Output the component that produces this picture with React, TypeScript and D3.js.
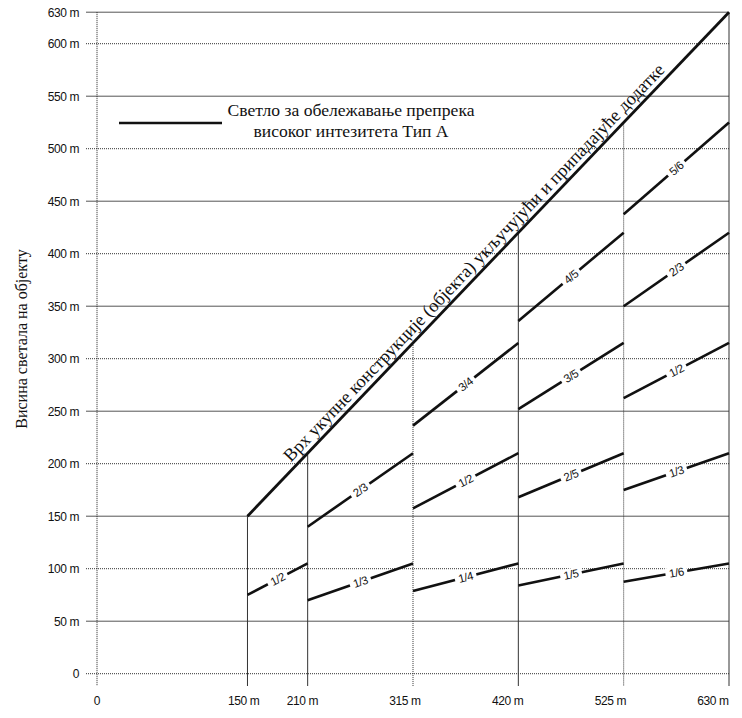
import React from "react";
import * as d3 from "d3";

const yTicks = [0, 50, 100, 150, 200, 250, 300, 350, 400, 450, 500, 550, 600, 630];
const yTickLabels = ["0", "50 m", "100 m", "150 m", "200 m", "250 m", "300 m", "350 m", "400 m", "450 m", "500 m", "550 m", "600 m", "630 m"];
const xTicks = [0, 150, 210, 315, 420, 525, 630];
const xTickLabels = ["0", "150 m", "210 m", "315 m", "420 m", "525 m", "630 m"];
const verticalTops = [150, 210, 315, 420, 525, 630];
const verticalX = [150, 210, 315, 420, 525, 630];

const topLineX = [150, 630];
const topLineY = [150, 630];

const segX0 = [150, 210, 210, 315, 315, 315, 420, 420, 420, 420, 525, 525, 525, 525, 525];
const segX1 = [210, 315, 315, 420, 420, 420, 525, 525, 525, 525, 630, 630, 630, 630, 630];
const segY0 = [75, 70, 140, 78.75, 157.5, 236.25, 84, 168, 252, 336, 87.5, 175, 262.5, 350, 437.5];
const segY1 = [105, 105, 210, 105, 210, 315, 105, 210, 315, 420, 105, 210, 315, 420, 525];
const segLabels = ["1/2", "1/3", "2/3", "1/4", "1/2", "3/4", "1/5", "2/5", "3/5", "4/5", "1/6", "1/3", "1/2", "2/3", "5/6"];

const yTitle = "Висина светала на објекту";
const legendLine1 = "Светло за обележавање препрека";
const legendLine2 = "високог интезитета Тип А";
const diagText = "Врх укупне конструкције (објекта) укључујући и припадајуће додатке";

export default function App() {
  const x = d3.scaleLinear().domain([0, 630]).range([97, 729]);
  const xLab = d3.scaleLinear().domain([0, 630]).range([97, 713]);
  const y = d3.scaleLinear().domain([0, 630]).range([673.7, 12.2]);
  const sans = "'Liberation Sans Narrow', 'Liberation Sans', Arial, sans-serif";
  const serif = "'Liberation Serif', 'Times New Roman', serif";
  const bottom = 686;

  const line = d3.line<[number, number]>().x((d) => x(d[0])).y((d) => y(d[1]));

  const diagAngle = (Math.atan2(y(topLineY[1]) - y(topLineY[0]), x(topLineX[1]) - x(topLineX[0])) * 180) / Math.PI;
  const dMid = 384;

  return (
    <svg width={742} height={718} style={{ position: "absolute", left: 0, top: 0, background: "#fff" }}>
      {/* horizontal grid */}
      {yTicks.map((t) => {
        const dotted = t % 100 === 0;
        return (
          <line
            key={"h" + t}
            x1={86}
            x2={x(630)}
            y1={y(t)}
            y2={y(t)}
            stroke={dotted ? "#333" : "#555"}
            strokeWidth={1}
            strokeDasharray={dotted ? "1,1" : undefined}
          />
        );
      })}
      {/* y axis */}
      <line x1={x(0)} x2={x(0)} y1={y(630)} y2={bottom} stroke="#222" strokeWidth={1} strokeDasharray="1,1" />
      {/* verticals */}
      {verticalX.map((v, i) => {
        const dotted = v === 315 || v === 525;
        return (
          <line
            key={"v" + v}
            x1={x(v)}
            x2={x(v)}
            y1={y(verticalTops[i])}
            y2={bottom}
            stroke="#333"
            strokeWidth={1}
            strokeDasharray={dotted ? "1,1" : undefined}
          />
        );
      })}
      {/* y tick labels */}
      {yTicks.map((t, i) => (
        <text key={"yl" + t} x={79} y={y(t) + 4.5} textAnchor="end" fontFamily={sans} fontSize={12} letterSpacing={-0.4} fill="#111">
          {yTickLabels[i]}
        </text>
      ))}
      {/* x tick labels */}
      {xTicks.map((t, i) => (
        <text key={"xl" + t} x={xLab(t)} y={705} textAnchor="middle" fontFamily={sans} fontSize={12} letterSpacing={-0.4} fill="#111">
          {xTickLabels[i]}
        </text>
      ))}
      {/* y title */}
      <text transform={`translate(27,339) rotate(-90)`} textAnchor="middle" fontFamily={serif} fontSize={16} fill="#111">
        {yTitle}
      </text>
      {/* legend */}
      <line x1={119} x2={222} y1={123} y2={123} stroke="#111" strokeWidth={2.6} />
      <text x={351} y={116} textAnchor="middle" fontFamily={serif} fontSize={17.6} fill="#111">
        {legendLine1}
      </text>
      <text x={351} y={137} textAnchor="middle" fontFamily={serif} fontSize={17.6} fill="#111">
        {legendLine2}
      </text>
      {/* segments */}
      {segLabels.map((lab, i) => {
        const p0: [number, number] = [segX0[i], segY0[i]];
        const p1: [number, number] = [segX1[i], segY1[i]];
        const mx = (x(p0[0]) + x(p1[0])) / 2;
        const my = (y(p0[1]) + y(p1[1])) / 2;
        const ang = (Math.atan2(y(p1[1]) - y(p0[1]), x(p1[0]) - x(p0[0])) * 180) / Math.PI;
        return (
          <g key={"s" + i}>
            <path d={line([p0, p1]) || ""} stroke="#111" strokeWidth={2.6} fill="none" />
            <g transform={`translate(${mx},${my}) rotate(${ang})`}>
              <rect x={-11} y={-6} width={22} height={12} fill="#fff" />
              <text x={0} y={4} textAnchor="middle" fontFamily={sans} fontSize={11.5} letterSpacing={-0.4} fill="#111">
                {lab}
              </text>
            </g>
          </g>
        );
      })}
      {/* main top line */}
      <path
        d={line([
          [topLineX[0], topLineY[0]],
          [topLineX[1], topLineY[1]],
        ]) || ""}
        stroke="#111"
        strokeWidth={2.8}
        fill="none"
      />
      <text
        transform={`translate(${x(dMid)},${y(dMid)}) rotate(${diagAngle}) translate(0,-5.5)`}
        textAnchor="middle"
        fontFamily={serif}
        fontSize={18.2}
        fill="#111"
      >
        {diagText}
      </text>
    </svg>
  );
}
